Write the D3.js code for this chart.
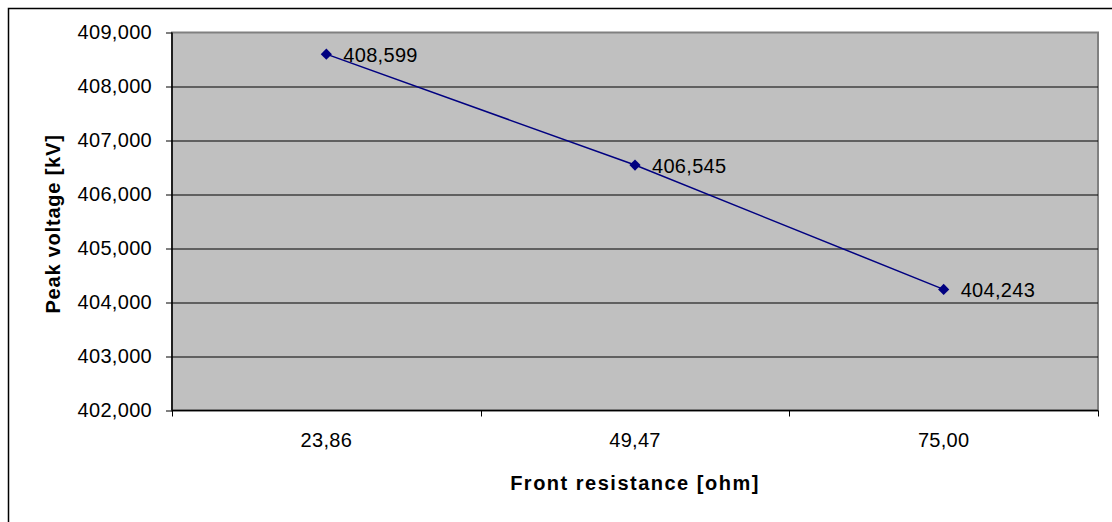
<!DOCTYPE html>
<html>
<head>
<meta charset="utf-8">
<script src="https://cdn.jsdelivr.net/npm/d3@7"></script>
<style>
  body { margin: 0; background: #fff; }
  text { font-family: "Liberation Sans", Arial, sans-serif; fill: #000; }
</style>
</head>
<body>
<div id="chart"></div>
<script>
// Data
const categories = ["23,86", "49,47", "75,00"];
const peakVoltage = [408.599, 406.545, 404.243];
const yTicks = [402, 403, 404, 405, 406, 407, 408, 409];

const width = 1112, height = 522;
const margin = { left: 172, top: 32.5, right: 1112 - 1098, bottom: 522 - 410.5 };
const innerWidth = width - margin.left - margin.right;
const innerHeight = height - margin.top - margin.bottom;

const svg = d3.select("#chart")
    .append("svg")
    .attr("width", width)
    .attr("height", height);

// Outer chart frame (right and bottom edges fall outside the picture)
svg.append("path")
    .attr("d", `M8.5,${height}V8.5H${width}`)
    .attr("fill", "none")
    .attr("stroke", "#000")
    .attr("stroke-width", 1.5);

const inner = svg.append("g")
    .attr("transform", `translate(${margin.left},${margin.top})`);

const xScale = d3.scaleBand()
    .domain(categories)
    .range([0, innerWidth]);

const yScale = d3.scaleLinear()
    .domain([402, 409])
    .range([innerHeight, 0]);

const numFmt = d => d3.format(".3f")(d).replace(".", ",");

// Plot area background
inner.append("rect")
    .attr("width", innerWidth)
    .attr("height", innerHeight)
    .attr("fill", "#c0c0c0")
    .attr("stroke", "#808080")
    .attr("stroke-width", 2);

// Gridlines
inner.selectAll("line.grid")
    .data(yTicks.filter(d => d !== 402 && d !== 409))
    .join("line")
    .attr("class", "grid")
    .attr("x1", 0).attr("x2", innerWidth)
    .attr("y1", d => Math.round(yScale(d)) + 0.5)
    .attr("y2", d => Math.round(yScale(d)) + 0.5)
    .attr("stroke", "#000")
    .attr("stroke-width", 1);

// Y axis
const yAxis = inner.append("g")
    .call(d3.axisLeft(yScale)
        .tickValues(yTicks)
        .tickSize(6)
        .tickPadding(14)
        .tickFormat(numFmt));
yAxis.select(".domain").attr("stroke", "#000").attr("stroke-width", 1.5).attr("d", `M0,0V${innerHeight}`);
yAxis.selectAll(".tick line").attr("stroke", "#000");
yAxis.selectAll(".tick text")
    .style("font-size", "20px")
    .style("letter-spacing", "0.3px");

// X axis: tick marks between categories
const xAxisG = inner.append("g")
    .attr("transform", `translate(0,${innerHeight})`);
xAxisG.append("line")
    .attr("x1", 0).attr("x2", innerWidth)
    .attr("stroke", "#000").attr("stroke-width", 1.5);
xAxisG.selectAll("line.tick")
    .data(d3.range(categories.length + 1))
    .join("line")
    .attr("class", "tick")
    .attr("x1", i => Math.round(i * xScale.step()) + 0.5)
    .attr("x2", i => Math.round(i * xScale.step()) + 0.5)
    .attr("y1", 0).attr("y2", 6)
    .attr("stroke", "#000");
xAxisG.selectAll("text")
    .data(categories)
    .join("text")
    .attr("x", d => xScale(d) + xScale.bandwidth() / 2)
    .attr("y", 36.5)
    .attr("text-anchor", "middle")
    .style("font-size", "20px")
    .style("letter-spacing", "0.3px")
    .text(d => d);

// Axis titles
svg.append("text")
    .attr("transform", `translate(60,224) rotate(-90)`)
    .attr("text-anchor", "middle")
    .style("font-size", "20px")
    .style("font-weight", "bold")
    .style("letter-spacing", "0.8px")
    .text("Peak voltage [kV]");

svg.append("text")
    .attr("x", margin.left + innerWidth / 2)
    .attr("y", 490)
    .attr("text-anchor", "middle")
    .style("font-size", "20px")
    .style("font-weight", "bold")
    .style("letter-spacing", "1.5px")
    .text("Front resistance [ohm]");

// Line
const line = d3.line()
    .x((d, i) => xScale(categories[i]) + xScale.bandwidth() / 2)
    .y(d => yScale(d));

inner.append("path")
    .datum(peakVoltage)
    .attr("d", line)
    .attr("fill", "none")
    .attr("stroke", "#000080")
    .attr("stroke-width", 1.5);

// Markers
inner.selectAll("path.marker")
    .data(peakVoltage)
    .join("path")
    .attr("class", "marker")
    .attr("d", d3.symbol().type(d3.symbolDiamond2).size(80))
    .attr("transform", (d, i) => `translate(${xScale(categories[i]) + xScale.bandwidth() / 2},${yScale(d)})`)
    .attr("fill", "#000080");

// Data labels
inner.selectAll("text.label")
    .data(peakVoltage)
    .join("text")
    .attr("class", "label")
    .attr("x", (d, i) => xScale(categories[i]) + xScale.bandwidth() / 2 + 17)
    .attr("y", d => yScale(d) + 7.5)
    .style("font-size", "20px")
    .style("letter-spacing", "0.3px")
    .text(numFmt);
</script>
</body>
</html>
